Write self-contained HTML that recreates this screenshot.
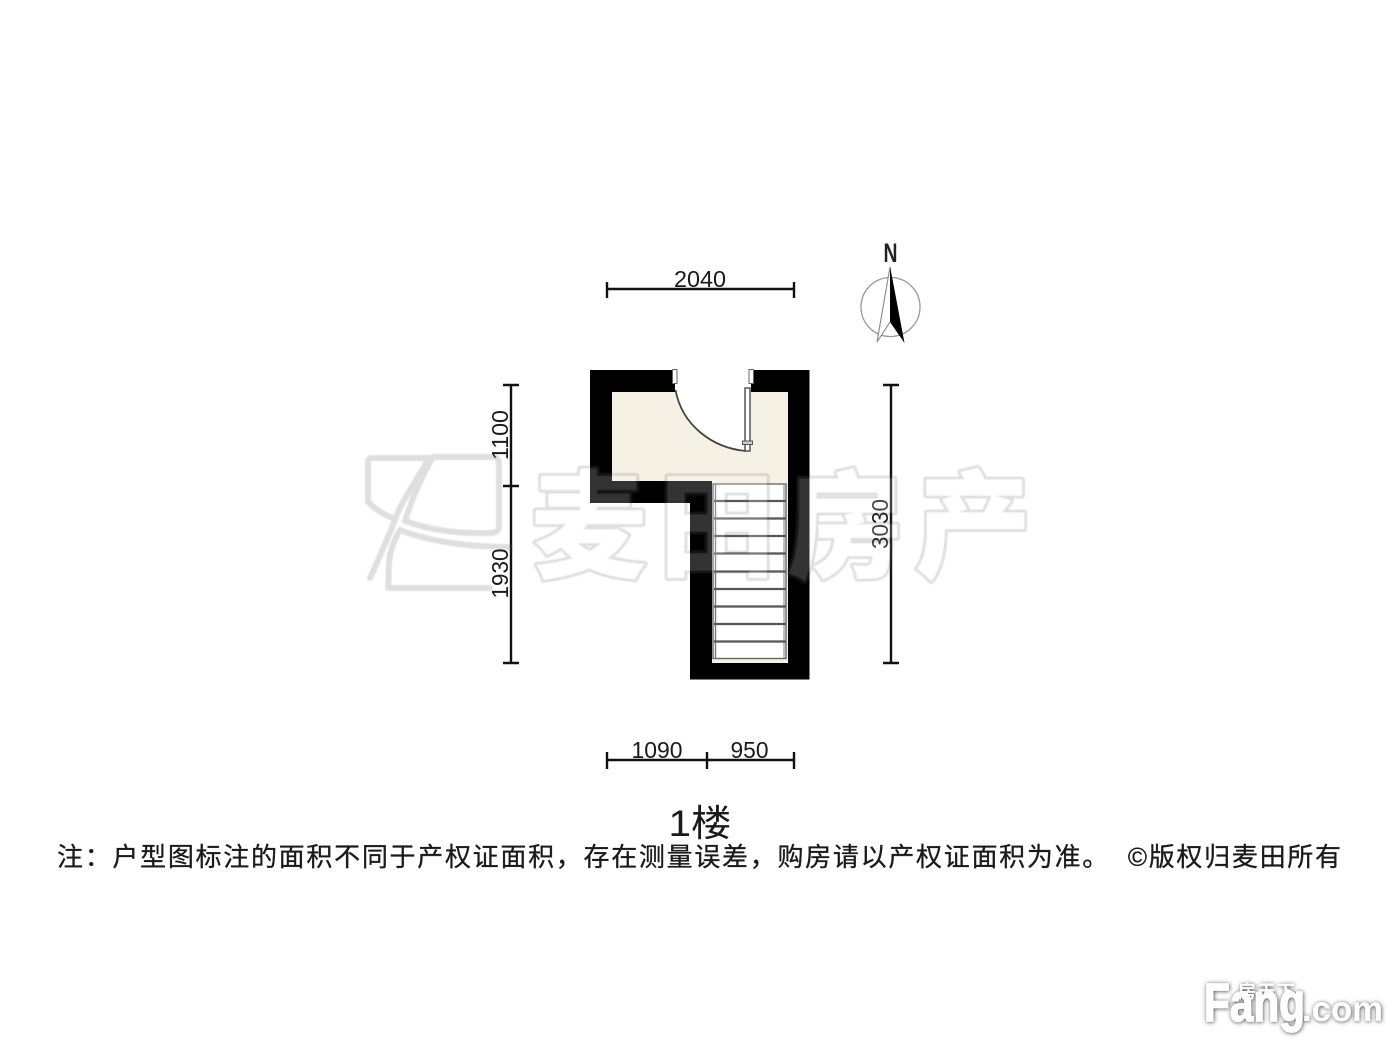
<!DOCTYPE html>
<html><head><meta charset="utf-8">
<style>
html,body{margin:0;padding:0;background:#fff;width:1400px;height:1050px;overflow:hidden}
svg{display:block}
text{font-family:"Liberation Sans","Noto Sans CJK SC",sans-serif;fill:#1a1a1a}
</style></head>
<body>
<svg width="1400" height="1050" viewBox="0 0 1400 1050" xmlns="http://www.w3.org/2000/svg">
<defs>
<filter id="glow" x="-10%" y="-20%" width="120%" height="140%">
<feDropShadow dx="0.5" dy="0.5" stdDeviation="2" flood-color="#444" flood-opacity="1"/>
</filter>
<filter id="soft" x="-5%" y="-5%" width="110%" height="110%"><feGaussianBlur stdDeviation="0.5"/></filter>
</defs>
<rect width="1400" height="1050" fill="#fff"/>

<!-- walls -->
<path d="M590 370H809.5V679.5H690V503H590Z" fill="#000"/>
<!-- floor -->
<path d="M612 392H788V663H712V481H612Z" fill="#f6f1e5"/>
<!-- door opening -->
<rect x="675" y="369" width="76" height="24" fill="#fff"/>
<path d="M675 390C682 425 712 448 746 451V390Z" fill="#fff"/>
<path d="M675.5 390C682 425 712 448 746 451" fill="none" stroke="#444" stroke-width="1.800"/>
<rect x="745" y="388" width="5" height="63" fill="#fff" stroke="#555" stroke-width="1.500"/>
<rect x="742.500" y="441" width="10" height="3.500" fill="#ccc" stroke="#555" stroke-width="1"/>
<rect x="672.500" y="369.500" width="4.500" height="14" fill="#fff" stroke="#666" stroke-width="1"/>
<rect x="749" y="369.500" width="4.500" height="14" fill="#fff" stroke="#666" stroke-width="1"/>

<!-- stairs -->
<rect x="713" y="484" width="73" height="174.500" fill="#fff" stroke="#666" stroke-width="1.400"/>
<line x1="715.500" y1="484" x2="715.500" y2="658" stroke="#777" stroke-width="1.400"/>
<line x1="784" y1="484" x2="784" y2="658" stroke="#999" stroke-width="1.200"/>
<g stroke="#555" stroke-width="2.200">
<line x1="714" x2="786" y1="501" y2="501"/>
<line x1="714" x2="786" y1="518.500" y2="518.500"/>
<line x1="714" x2="786" y1="536" y2="536"/>
<line x1="714" x2="786" y1="553.500" y2="553.500"/>
<line x1="714" x2="786" y1="571.500" y2="571.500"/>
<line x1="714" x2="786" y1="589" y2="589"/>
<line x1="714" x2="786" y1="606.500" y2="606.500"/>
<line x1="714" x2="786" y1="624" y2="624"/>
<line x1="714" x2="786" y1="641.500" y2="641.500"/>
</g>

<!-- dimensions -->
<g stroke="#111" stroke-width="2.400" fill="none">
<path d="M607 289H794M607 282V298M794 282V298"/>
<path d="M607 760H794M607 752V769M707 752V769M794 752V769"/>
<path d="M511 385V663M503 385H519M503 486H519M503 663H519"/>
<path d="M891 385V663M883 385H899M883 663H899"/>
</g>
<g font-size="23">
<text x="700" y="287" text-anchor="middle" textLength="52" lengthAdjust="spacingAndGlyphs">2040</text>
<text x="657" y="758" text-anchor="middle" textLength="51" lengthAdjust="spacingAndGlyphs">1090</text>
<text x="749.500" y="758" text-anchor="middle" textLength="38" lengthAdjust="spacingAndGlyphs">950</text>
<text transform="translate(508 435) rotate(-90)" text-anchor="middle" textLength="50" lengthAdjust="spacingAndGlyphs">1100</text>
<text transform="translate(508 573.500) rotate(-90)" text-anchor="middle" textLength="50" lengthAdjust="spacingAndGlyphs">1930</text>
<text transform="translate(888 524) rotate(-90)" text-anchor="middle" textLength="50" lengthAdjust="spacingAndGlyphs">3030</text>
</g>

<!-- compass -->
<circle cx="890.500" cy="307" r="29.500" fill="none" stroke="#999" stroke-width="1.300"/>
<path d="M890 267L877 342L890 322" fill="#fff" stroke="#888" stroke-width="1.100"/>
<path d="M890 266L904.500 343L890 322Z" fill="#000"/>
<text x="890.500" y="262" text-anchor="middle" font-size="27" font-weight="700" textLength="14" lengthAdjust="spacingAndGlyphs" style="fill:#222">N</text>

<!-- title & note -->
<text x="700" y="836" text-anchor="middle" font-size="37" textLength="63" lengthAdjust="spacingAndGlyphs">1楼</text>
<text x="57" y="866" font-size="26" textLength="1284" lengthAdjust="spacing" xml:space="preserve" style="stroke:#1a1a1a;stroke-width:.3">注：户型图标注的面积不同于产权证面积，存在测量误差，购房请以产权证面积为准。  ©版权归麦田所有</text>

<!-- watermark -->
<g opacity="0.2" filter="url(#soft)">
<g fill="none" stroke="#666" stroke-width="6" stroke-linejoin="round" stroke-linecap="round">
<path d="M429 458H372Q368 458 368 462V502C376 510 384 514 392 518"/>
<path d="M429 458C418 478 406 494 398 512C392 528 380 556 370 578"/>
<path d="M433 457H492Q499 457 499 464V526Q499 533 490 533C460 534 430 530 405 521C412 498 422 476 433 457Z"/>
<path d="M400 530C385 555 390 570 388 588H490"/>
<path d="M400 530C430 542 470 547 510 547"/>
</g>
<text x="531" y="568" font-size="116" font-weight="900" textLength="500" lengthAdjust="spacing" style="fill:#fff;stroke:#666;stroke-width:6;stroke-linejoin:round;paint-order:stroke;font-family:'Noto Sans CJK SC',sans-serif">麦田房产</text>
</g>

<!-- logo -->
<g filter="url(#glow)">
<text x="1204" y="1021" font-size="54" font-weight="700" textLength="101" lengthAdjust="spacingAndGlyphs" style="fill:#fff;stroke:#fff;stroke-width:1.500">Fang</text>
<text x="1302" y="1021" font-size="35" font-weight="700" textLength="81" lengthAdjust="spacingAndGlyphs" style="fill:#fff">.com</text>
<text x="1238" y="998" font-size="18" font-weight="700" textLength="57" style="fill:#fff">房天下</text>
</g>
</svg>
</body></html>
